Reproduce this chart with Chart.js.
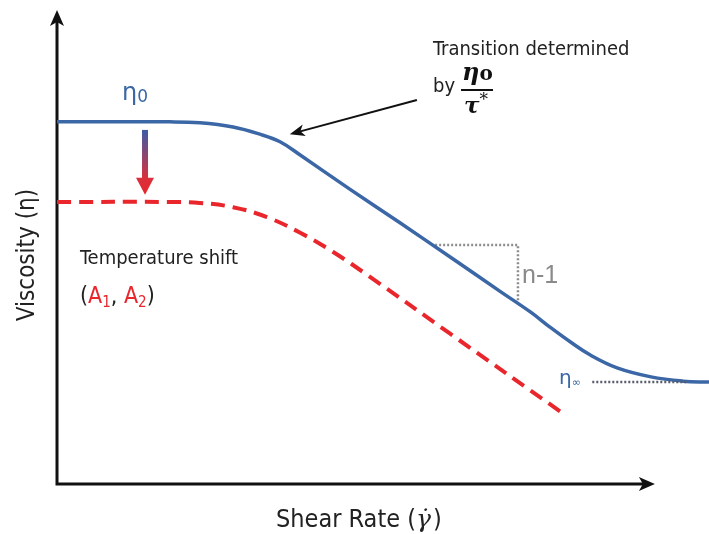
<!DOCTYPE html>
<html>
<head>
<meta charset="utf-8">
<script src="https://cdn.jsdelivr.net/npm/chart.js@4.4.1/dist/chart.umd.min.js"></script>
<style>
  html, body { margin: 0; padding: 0; background: #ffffff; }
  #wrap { width: 709px; height: 534px; }
</style>
</head>
<body>
<div id="wrap"><canvas id="viscChart" width="709" height="534"></canvas></div>
<script>
// Schematic: viscosity vs shear rate (arbitrary units, 0..10 on both axes)

// Reference curve (solid blue)
const refX = [0, 1.73, 2.19, 2.70, 3.11, 3.42, 3.73, 4.49, 5.26, 6.03, 6.79, 7.26, 7.56, 7.87, 8.18, 8.59, 9.11, 9.60, 10];
const refY = [7.64, 7.64, 7.62, 7.53, 7.38, 7.22, 6.94, 6.22, 5.51, 4.79, 4.07, 3.63, 3.31, 3.00, 2.72, 2.45, 2.26, 2.17, 2.15];

// Temperature shifted curve (red dashed)
const shiftX = [0, 1.73, 2.19, 2.70, 3.22, 3.73, 4.23, 4.80, 6.03, 7.75];
const shiftY = [5.95, 5.95, 5.93, 5.84, 5.63, 5.30, 4.90, 4.37, 3.17, 1.50];

// Slope triangle (n-1) and eta-infinity guide
const slopeX = [5.80, 7.07, 7.07];
const slopeY = [5.04, 5.04, 3.84];
const etaInfX = [8.21, 9.66];
const etaInfY = [2.15, 2.15];

// Annotation arrows [tail, tip]
const transArrowX = [5.52, 3.57];
const transArrowY = [8.10, 7.38];
const shiftArrowX = [1.35, 1.35];
const shiftArrowY = [7.47, 6.10];

// Axis extents
const xAxisEnd = 9.17;
const yAxisEnd = 10;

const BLUE = '#3b67a6';
const RED = '#e8262c';
const TEXT = '#222222';
const NARROW = '"Liberation Sans Narrow", "DejaVu Sans Condensed", "Liberation Sans", sans-serif';

function toPoints(xs, ys) {
    return xs.map((v, i) => ({ x: v, y: ys[i] }));
}

// draw a sequence of text runs with different styles
function drawRuns(ctx, x, y, runs) {
    let cx = x;
    runs.forEach(r => {
        ctx.font = r.font;
        ctx.fillStyle = r.color;
        ctx.fillText(r.t, cx, y + (r.dy || 0));
        cx += ctx.measureText(r.t).width + (r.gap || 0);
    });
}

function stealthHead(ctx, tipX, tipY, angle, len, half, notch) {
    ctx.save();
    ctx.translate(tipX, tipY);
    ctx.rotate(angle);
    ctx.beginPath();
    ctx.moveTo(0, 0);
    ctx.lineTo(-len, -half);
    ctx.lineTo(-len + notch, 0);
    ctx.lineTo(-len, half);
    ctx.closePath();
    ctx.fill();
    ctx.restore();
}

const overlay = {
    id: 'overlay',
    beforeDatasetsDraw(chart) {
        const { ctx, scales: { x, y } } = chart;
        const x0 = x.getPixelForValue(0);
        const y0 = y.getPixelForValue(0);
        const xEnd = x.getPixelForValue(xAxisEnd);
        const yEnd = y.getPixelForValue(yAxisEnd);

        ctx.save();
        ctx.strokeStyle = '#111111';
        ctx.fillStyle = '#111111';
        ctx.lineWidth = 3;
        ctx.beginPath();
        ctx.moveTo(x0, yEnd + 10);
        ctx.lineTo(x0, y0);
        ctx.lineTo(xEnd - 10, y0);
        ctx.stroke();
        stealthHead(ctx, x0, yEnd, -Math.PI / 2, 16, 7, 4);
        stealthHead(ctx, xEnd, y0, 0, 16, 7, 4);
        ctx.restore();
    },
    afterDatasetsDraw(chart) {
        const { ctx, scales: { x, y } } = chart;
        ctx.save();
        ctx.textBaseline = 'alphabetic';

        // transition arrow
        const tx = x.getPixelForValue(transArrowX[0]), ty = y.getPixelForValue(transArrowY[0]);
        const hx = x.getPixelForValue(transArrowX[1]), hy = y.getPixelForValue(transArrowY[1]);
        const ang = Math.atan2(hy - ty, hx - tx);
        ctx.strokeStyle = '#111111';
        ctx.fillStyle = '#111111';
        ctx.lineWidth = 2;
        ctx.beginPath();
        ctx.moveTo(tx, ty);
        ctx.lineTo(hx - Math.cos(ang) * 8, hy - Math.sin(ang) * 8);
        ctx.stroke();
        stealthHead(ctx, hx, hy, ang, 15, 6, 4);

        // temperature shift arrow (blue -> red)
        const ax = x.getPixelForValue(shiftArrowX[0]);
        const ay0 = y.getPixelForValue(shiftArrowY[0]);
        const ay1 = y.getPixelForValue(shiftArrowY[1]);
        const grad = ctx.createLinearGradient(0, ay0, 0, ay1);
        grad.addColorStop(0, '#3a5ca8');
        grad.addColorStop(0.75, '#d9303c');
        grad.addColorStop(1, RED);
        ctx.fillStyle = grad;
        ctx.fillRect(ax - 3, ay0, 6, ay1 - ay0 - 15);
        ctx.beginPath();
        ctx.moveTo(ax - 9, ay1 - 17);
        ctx.lineTo(ax + 9, ay1 - 17);
        ctx.lineTo(ax, ay1);
        ctx.closePath();
        ctx.fill();

        // eta_0 label
        drawRuns(ctx, 122, 100, [
            { t: 'η', font: '24px "DejaVu Sans", sans-serif', color: BLUE },
            { t: '0', font: '17px "DejaVu Sans", sans-serif', color: BLUE, dy: 2 }
        ]);

        // transition text
        ctx.fillStyle = TEXT;
        ctx.font = '20px ' + NARROW;
        ctx.fillText('Transition determined', 433, 55);
        ctx.fillText('by', 433, 92);
        drawRuns(ctx, 462, 80, [
            { t: 'η', font: 'italic bold 24px "DejaVu Serif", serif', color: '#111111' },
            { t: 'o', font: 'bold 20px "DejaVu Serif", serif', color: '#111111' }
        ]);
        ctx.fillStyle = '#111111';
        ctx.fillRect(461, 89, 32, 2);
        drawRuns(ctx, 464, 113, [
            { t: 'τ', font: 'italic bold 23px "DejaVu Serif", serif', color: '#111111' },
            { t: '*', font: '17px "DejaVu Serif", serif', color: '#111111', dy: -8 }
        ]);

        // temperature shift text
        ctx.fillStyle = TEXT;
        ctx.font = '20px ' + NARROW;
        ctx.fillText('Temperature shift', 80, 264);
        const f = '23px ' + NARROW;
        const fs = '15px ' + NARROW;
        drawRuns(ctx, 80, 303, [
            { t: '(', font: f, color: TEXT },
            { t: 'A', font: f, color: RED },
            { t: '1', font: fs, color: RED, dy: 4 },
            { t: ', ', font: f, color: TEXT },
            { t: 'A', font: f, color: RED },
            { t: '2', font: fs, color: RED, dy: 4 },
            { t: ')', font: f, color: TEXT }
        ]);

        // slope label
        ctx.fillStyle = '#8a8a8a';
        ctx.font = '25px "Liberation Sans", Arial, sans-serif';
        ctx.fillText('n-1', 522, 283);

        // eta_inf label
        drawRuns(ctx, 559, 384, [
            { t: 'η', font: '20px "DejaVu Sans", sans-serif', color: BLUE },
            { t: '∞', font: '11px "DejaVu Sans", sans-serif', color: BLUE, dy: 2 }
        ]);

        // axis titles
        drawRuns(ctx, 276, 527, [
            { t: 'Shear Rate (', font: '25px ' + NARROW, color: TEXT },
            { t: 'γ̇', font: 'italic 25px "DejaVu Serif", serif', color: TEXT, gap: 2 },
            { t: ')', font: '25px ' + NARROW, color: TEXT }
        ]);
        ctx.fillStyle = TEXT;
        ctx.font = '24px ' + NARROW;
        ctx.textAlign = 'center';
        ctx.translate(34, 255);
        ctx.rotate(-Math.PI / 2);
        ctx.fillText('Viscosity (η)', 0, 0);
        ctx.restore();
    }
};

const chart = new Chart(document.getElementById('viscChart').getContext('2d'), {
    type: 'scatter',
    data: {
        datasets: [
            {
                label: 'Reference',
                data: toPoints(refX, refY),
                showLine: true,
                borderColor: BLUE,
                borderWidth: 3.5,
                pointRadius: 0,
                tension: 0.4,
                order: 1
            },
            {
                label: 'Shifted',
                data: toPoints(shiftX, shiftY),
                showLine: true,
                borderColor: RED,
                borderWidth: 4,
                borderDash: [14, 8],
                pointRadius: 0,
                tension: 0.4,
                order: 2
            },
            {
                label: 'Slope',
                data: toPoints(slopeX, slopeY),
                showLine: true,
                borderColor: '#8c8c8c',
                borderWidth: 2.5,
                borderDash: [2, 2],
                pointRadius: 0,
                order: 3
            },
            {
                label: 'EtaInf',
                data: toPoints(etaInfX, etaInfY),
                showLine: true,
                borderColor: '#555c6a',
                borderWidth: 2.5,
                borderDash: [2, 2],
                pointRadius: 0,
                order: 0
            }
        ]
    },
    options: {
        responsive: false,
        animation: false,
        layout: { padding: { left: 57, right: 0, top: 10, bottom: 50 } },
        plugins: { legend: { display: false }, tooltip: { enabled: false } },
        scales: {
            x: { type: 'linear', min: 0, max: 10, display: false },
            y: { type: 'linear', min: 0, max: 10, display: false }
        }
    },
    plugins: [overlay]
});
</script>
</body>
</html>
